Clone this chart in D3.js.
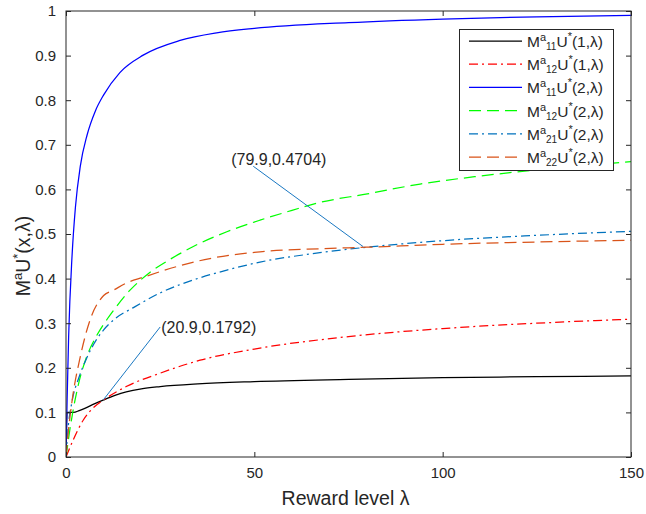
<!DOCTYPE html>
<html><head><meta charset="utf-8">
<script src="https://cdnjs.cloudflare.com/ajax/libs/d3/7.8.5/d3.min.js"></script>
<style>
html,body{margin:0;padding:0;background:#fff;}
svg{display:block;font-family:"Liberation Sans",Arial,Helvetica,sans-serif;}
</style></head>
<body><svg id="chart" width="646" height="514"></svg>
<script>
// ---- data ----
const xTicks = [0, 50, 100, 150];
const yTicks = [0, 0.1, 0.2, 0.3, 0.4, 0.5, 0.6, 0.7, 0.8, 0.9, 1];
const yTickLabels = ["0","0.1","0.2","0.3","0.4","0.5","0.6","0.7","0.8","0.9","1"];

const lamBlue = [0, 0.3, 0.7, 1.6, 2.5, 3.8, 5.6, 7.8, 10, 14.3, 20.5, 30.3, 40, 50, 75, 100, 125, 150];
const valBlue = [0, 0.13, 0.27, 0.45, 0.56, 0.652, 0.722, 0.776, 0.812, 0.862, 0.901, 0.934, 0.951, 0.961, 0.974, 0.982, 0.987, 0.99];

const lamBlack = [0, 0.3, 2, 3.5, 5, 7.5, 10, 13, 16, 20, 25, 35, 50, 75, 100, 125, 150];
const valBlack = [0, 0.1, 0.1, 0.104, 0.109, 0.119, 0.128, 0.138, 0.146, 0.153, 0.158, 0.164, 0.169, 0.174, 0.178, 0.18, 0.182];

const lamRed = [0, 1.9, 4.6, 7.2, 10, 16, 25, 35.6, 50, 75, 100, 125, 150];
const valRed = [0, 0.038, 0.083, 0.11, 0.128, 0.158, 0.188, 0.217, 0.242, 0.27, 0.288, 0.3, 0.309];

const lamGreen = [0, 1, 2, 3.5, 5.5, 8, 11, 13, 17, 22, 27.6, 33.8, 42.7, 51.5, 60, 66.5, 80, 94, 110, 130, 150];
const valGreen = [0, 0.06, 0.11, 0.17, 0.225, 0.27, 0.31, 0.333, 0.374, 0.412, 0.443, 0.472, 0.505, 0.531, 0.553, 0.569, 0.59, 0.612, 0.63, 0.648, 0.662];

const lamDD = [0, 0.5, 1.5, 3.5, 5.5, 8, 10, 13, 17.9, 25, 33.8, 42.7, 51.5, 67.4, 79.9, 100, 125, 150];
const valDD = [0, 0.06, 0.12, 0.18, 0.222, 0.262, 0.285, 0.31, 0.335, 0.368, 0.397, 0.419, 0.437, 0.458, 0.4704, 0.485, 0.497, 0.506];

const lamOrange = [0, 0.3, 1.6, 3.8, 6.5, 10, 12.6, 16, 20.5, 29.4, 38.2, 51.5, 67.4, 79.9, 100, 125, 150];
const valOrange = [0, 0.03, 0.125, 0.225, 0.31, 0.362, 0.374, 0.39, 0.403, 0.427, 0.445, 0.46, 0.467, 0.4704, 0.477, 0.482, 0.486];

const seriesSub = ["11", "12", "11", "12", "21", "22"];
const seriesArg = ["1", "1", "2", "2", "2", "2"];

const annotTexts = ["(20.9,0.1792)", "(79.9,0.4704)"];
const annotPoints = [[9.9, 0.128], [78.9, 0.4716]];
const annotEnds = [[25, 0.2915], [49.7, 0.652]];

// ---- layout ----
const svg = d3.select("#chart");
const L = 66, R = 631, T = 11, B = 457;
const x = d3.scaleLinear().domain([0, 150]).range([L, R]);
const y = d3.scaleLinear().domain([0, 1]).range([B, T]);
const axisColor = "#262626";

const series = [
  {lam: lamBlack, val: valBlack, color: "#000000", dash: null},
  {lam: lamRed, val: valRed, color: "#ff0000", dash: "9,4,2,4"},
  {lam: lamBlue, val: valBlue, color: "#0000ff", dash: null},
  {lam: lamGreen, val: valGreen, color: "#00ff00", dash: "12,6"},
  {lam: lamDD, val: valDD, color: "#0072bd", dash: "9,4,2,4"},
  {lam: lamOrange, val: valOrange, color: "#d95319", dash: "12,6"}
];

svg.append("rect").attr("x", L).attr("y", T).attr("width", R - L).attr("height", B - T).attr("fill", "#fff");

svg.append("clipPath").attr("id", "clip").append("rect")
  .attr("x", L).attr("y", T - 1).attr("width", R - L).attr("height", B - T + 1);

const line = d3.line().x(d => x(d[0])).y(d => y(d[1])).curve(d3.curveMonotoneX);
const plot = svg.append("g").attr("clip-path", "url(#clip)");

series.forEach(s => {
  const pts = s.lam.map((l, i) => [l, s.val[i]]);
  plot.append("path").attr("d", line(pts)).attr("fill", "none")
    .attr("stroke", s.color).attr("stroke-width", 1.25)
    .attr("stroke-dasharray", s.dash);
});

// annotations
annotTexts.forEach((t, i) => {
  const p = annotPoints[i], e = annotEnds[i];
  svg.append("line").attr("x1", x(p[0])).attr("y1", y(p[1]))
    .attr("x2", x(e[0])).attr("y2", y(e[1]))
    .attr("stroke", "#1a78c2").attr("stroke-width", 1);
});
svg.append("text").attr("x", x(annotEnds[0][0]) + 1).attr("y", y(annotEnds[0][1]) + 6)
  .attr("font-size", 16).attr("fill", "#262626").text(annotTexts[0]);
svg.append("text").attr("x", x(annotEnds[1][0]) - 22).attr("y", y(annotEnds[1][1]) - 1)
  .attr("font-size", 16).attr("fill", "#262626").text(annotTexts[1]);

// axes
const gx = svg.append("g").attr("transform", `translate(0,${B})`)
  .call(d3.axisBottom(x).tickValues(xTicks).tickSizeInner(-5).tickSizeOuter(0).tickPadding(10).tickFormat(d3.format("d")));
const gxt = svg.append("g").attr("transform", `translate(0,${T})`)
  .call(d3.axisTop(x).tickValues(xTicks).tickSizeInner(-5).tickSizeOuter(0).tickFormat(""));
const gy = svg.append("g").attr("transform", `translate(${L},0)`)
  .call(d3.axisLeft(y).tickValues(yTicks).tickSizeInner(-5).tickSizeOuter(0).tickPadding(10)
    .tickFormat((d, i) => yTickLabels[i]));
const gyr = svg.append("g").attr("transform", `translate(${R},0)`)
  .call(d3.axisRight(y).tickValues(yTicks).tickSizeInner(-5).tickSizeOuter(0).tickFormat(""));

[gx, gxt, gy, gyr].forEach(g => {
  g.select(".domain").remove();
  g.selectAll(".tick line").attr("stroke", axisColor).attr("stroke-width", 1);
  g.selectAll(".tick text").attr("fill", axisColor).attr("font-size", 15)
    .attr("font-family", "Liberation Sans, Arial, sans-serif");
});
svg.append("rect").attr("x", L).attr("y", T).attr("width", R - L).attr("height", B - T)
  .attr("fill", "none").attr("stroke", axisColor).attr("stroke-width", 1);

// axis labels
svg.append("text").attr("x", (L + R) / 2 - 3).attr("y", 505).attr("text-anchor", "middle")
  .attr("font-size", 19.5).attr("fill", axisColor)
  .text("Reward level λ");

const yl = svg.append("text").attr("transform", `translate(30,${(T + B) / 2 + 22}) rotate(-90)`)
  .attr("text-anchor", "middle").attr("font-size", 19.5).attr("fill", axisColor);
yl.append("tspan").text("M");
yl.append("tspan").attr("font-size", 13).attr("dy", -8).text("a");
yl.append("tspan").attr("dy", 8).text("U");
yl.append("tspan").attr("font-size", 13).attr("dy", -8).text("*");
yl.append("tspan").attr("dy", 8).text("(x,λ)");

// legend
const lg = svg.append("g");
lg.append("rect").attr("x", 459.5).attr("y", 29.5).attr("width", 154).attr("height", 141)
  .attr("fill", "#fff").attr("stroke", axisColor).attr("stroke-width", 1);
series.forEach((s, i) => {
  const cy = 41 + i * 23.2;
  lg.append("line").attr("x1", 469).attr("x2", 522).attr("y1", cy).attr("y2", cy)
    .attr("stroke", s.color).attr("stroke-width", 1.25).attr("stroke-dasharray", s.dash);
  const t = lg.append("text").attr("x", 527).attr("y", cy + 6).attr("font-size", 15.5).attr("fill", axisColor);
  t.append("tspan").text("M");
  t.append("tspan").attr("font-size", 11).attr("dy", -6).text("a");
  t.append("tspan").attr("font-size", 10).attr("dy", 9).text(seriesSub[i]);
  t.append("tspan").attr("dy", -3).text("U");
  t.append("tspan").attr("font-size", 11).attr("dy", -7).text("*");
  t.append("tspan").attr("dy", 7).text("(" + seriesArg[i] + ",λ)");
});
</script></body></html>
